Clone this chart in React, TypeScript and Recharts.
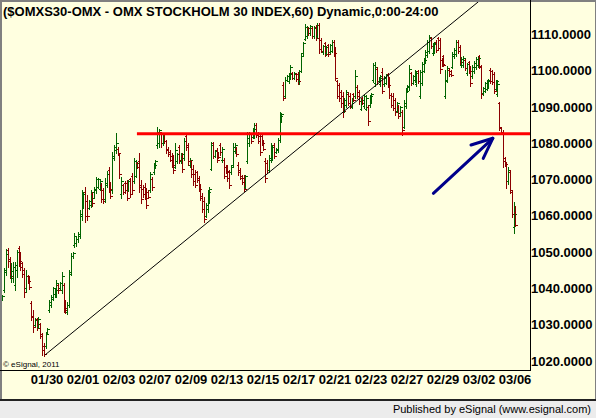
import React from 'react';
import { ComposedChart, Bar, XAxis, YAxis, ReferenceLine } from 'recharts';

// Trading sessions (hourly bars: first session partial)
const sessions = ['01/26','01/27','01/30','01/31','02/01','02/02','02/03','02/06','02/07','02/08','02/09','02/10','02/13','02/14','02/15','02/16','02/17','02/20','02/21','02/22','02/23','02/24','02/27','02/28','02/29','03/01','03/02','03/05','03/06'];
const barsPerSession = [6,10,10,10,10,10,10,10,10,10,10,10,10,10,10,10,10,10,10,10,10,10,10,10,10,10,10,10,10];
const tickDates = ['01/30','02/01','02/03','02/07','02/09','02/13','02/15','02/17','02/21','02/23','02/27','02/29','03/02','03/06'];
const yTicks = [1020,1030,1040,1050,1060,1070,1080,1090,1100,1110];

const opens = [
  1037.0,1039.5,1044.5,1050.5,1048.0,1043.5,
  1043.0,1041.0,1045.0,1051.0,1049.5,1047.0,1045.0,1040.0,1043.5,1042.5,
  1036.0,1032.5,1030.0,1031.5,1029.5,1030.3,1027.5,1024.0,1024.0,1027.8,
  1034.0,1035.5,1037.0,1038.5,1038.5,1041.0,1040.2,1039.5,1041.0,1035.5,
  1033.5,1035.5,1044.5,1048.8,1052.0,1052.5,1053.5,1054.5,1060.0,1063.5,
  1066.5,1064.0,1062.2,1063.0,1066.0,1065.0,1067.0,1068.0,1067.5,1068.5,
  1067.0,1064.5,1068.5,1072.5,1068.5,1067.0,1076.0,1078.0,1078.5,1077.0,
  1066.0,1068.5,1069.0,1069.0,1067.0,1070.0,1071.0,1069.5,1071.0,1074.5,
  1075.0,1068.5,1067.5,1068.0,1067.0,1066.5,1067.0,1070.0,1072.0,1073.5,
  1079.5,1080.0,1083.0,1080.0,1082.5,1080.5,1078.5,1077.5,1076.5,1075.0,
  1073.5,1075.0,1079.0,1075.0,1076.5,1076.0,1082.0,1079.5,1074.0,1075.0,
  1073.0,1071.5,1072.0,1070.5,1068.0,1065.5,1064.0,1060.0,1062.0,1064.0,
  1073.0,1080.0,1076.5,1078.0,1077.3,1079.5,1075.5,1075.5,1073.5,1073.5,
  1072.0,1072.0,1074.0,1077.8,1078.5,1074.0,1072.5,1071.0,1070.5,1068.0,
  1075.0,1080.0,1082.5,1081.8,1082.0,1085.0,1082.5,1082.0,1082.0,1080.5,
  1075.0,1074.5,1072.5,1075.5,1076.0,1079.5,1077.5,1078.0,1081.0,1086.5,
  1096.0,1093.0,1097.4,1097.0,1098.0,1099.3,1098.0,1099.0,1099.0,1097.0,
  1100.0,1104.8,1108.8,1109.5,1111.8,1110.3,1111.8,1109.6,1112.0,1109.5,
  1112.5,1108.5,1105.0,1107.5,1104.8,1107.0,1105.2,1105.5,1108.0,1105.5,
  1097.0,1096.0,1094.0,1093.0,1089.0,1090.5,1093.5,1093.0,1090.0,1093.5,
  1093.0,1095.5,1094.0,1089.5,1092.5,1090.2,1089.5,1090.0,1090.5,1091.5,
  1097.5,1096.5,1100.5,1097.2,1096.3,1099.5,1096.2,1096.7,1099.0,1097.5,
  1093.3,1093.0,1092.0,1089.0,1090.0,1088.2,1088.5,1084.5,1090.2,1094.5,
  1095.5,1099.2,1096.7,1097.3,1096.3,1099.8,1093.0,1096.5,1100.0,1102.5,
  1104.2,1105.5,1109.0,1104.8,1105.2,1108.0,1109.0,1108.5,1103.0,1104.0,
  1093.0,1097.3,1100.3,1100.0,1101.0,1104.0,1104.5,1108.0,1106.5,1101.5,
  1101.5,1103.0,1099.3,1102.3,1101.0,1098.5,1099.8,1101.0,1101.5,1104.0,
  1101.0,1093.7,1094.5,1095.0,1095.5,1100.3,1099.8,1099.0,1095.0,1093.5,
  1091.0,1084.2,1083.2,1075.8,1074.5,1069.5,1072.0,1066.5,1057.0,1061.0,
];

const highs = [
  1038.2,1045.6,1050.9,1051.1,1048.6,1047.0,
  1047.3,1047.3,1050.6,1051.7,1050.0,1047.3,1045.6,1045.1,1043.7,1043.4,
  1036.5,1034.0,1031.8,1031.8,1032.1,1030.5,1027.7,1025.0,1028.0,1029.1,
  1036.8,1038.2,1040.4,1040.1,1042.3,1041.2,1041.8,1044.5,1041.5,1036.8,
  1036.3,1045.1,1049.8,1050.0,1055.3,1054.2,1055.5,1061.6,1067.1,1066.6,
  1067.9,1065.7,1064.4,1067.1,1066.6,1067.9,1070.7,1070.4,1069.9,1069.0,
  1067.7,1070.4,1072.3,1073.4,1069.3,1077.6,1079.5,1082.8,1079.0,1077.3,
  1070.7,1068.8,1069.6,1069.9,1069.9,1070.4,1071.8,1075.9,1075.4,1074.8,
  1077.3,1069.9,1068.5,1069.0,1067.7,1067.1,1072.1,1070.7,1074.5,1075.4,
  1084.5,1084.0,1083.2,1082.8,1082.8,1080.9,1079.0,1078.1,1077.3,1076.7,
  1080.1,1077.3,1079.5,1077.3,1077.3,1081.4,1082.8,1080.1,1075.9,1075.4,
  1074.0,1072.6,1072.3,1071.0,1068.8,1066.3,1065.2,1063.5,1067.1,1067.9,
  1080.3,1080.3,1078.1,1078.7,1077.6,1080.1,1079.0,1075.9,1074.0,1074.0,
  1072.6,1074.0,1080.1,1080.1,1079.0,1074.8,1073.2,1071.2,1071.2,1071.2,
  1083.1,1083.1,1082.8,1084.2,1085.6,1085.6,1083.1,1082.8,1082.8,1080.9,
  1075.9,1075.4,1076.7,1080.1,1079.5,1080.1,1078.7,1081.4,1088.6,1088.3,
  1096.9,1098.2,1098.8,1099.3,1101.5,1099.6,1099.6,1099.3,1099.6,1100.2,
  1104.8,1107.9,1112.8,1112.3,1112.0,1112.6,1112.0,1112.3,1112.6,1113.1,
  1113.1,1109.0,1107.1,1107.9,1106.8,1107.3,1107.3,1108.4,1108.4,1106.5,
  1097.4,1096.6,1094.7,1094.1,1092.5,1094.7,1094.1,1093.8,1092.5,1093.8,
  1100.2,1096.0,1094.7,1092.5,1092.7,1093.3,1093.3,1090.5,1093.3,1093.8,
  1102.1,1102.4,1101.0,1098.2,1098.8,1100.7,1098.5,1099.1,1099.3,1098.2,
  1093.8,1093.8,1092.5,1091.4,1090.5,1090.2,1089.1,1091.9,1095.2,1096.0,
  1101.5,1099.6,1098.8,1100.2,1099.6,1100.2,1100.2,1102.4,1103.5,1105.7,
  1108.4,1109.8,1109.3,1107.6,1107.9,1108.4,1109.3,1109.0,1103.5,1104.3,
  1100.2,1101.3,1100.7,1100.2,1105.1,1106.2,1108.4,1108.4,1107.1,1103.7,
  1104.0,1103.2,1102.1,1102.7,1101.3,1101.5,1102.7,1103.7,1104.0,1104.3,
  1101.5,1095.5,1096.9,1097.4,1097.7,1100.7,1100.2,1099.6,1097.4,1097.4,
  1091.4,1084.5,1083.6,1076.2,1074.8,1073.4,1072.6,1067.1,1063.8,1062.7,
];

const lows = [
  1036.8,1039.0,1043.7,1045.9,1042.9,1041.8,
  1041.8,1039.6,1043.1,1046.2,1045.1,1043.1,1037.6,1039.0,1041.5,1039.9,
  1031.3,1028.0,1029.6,1028.5,1029.1,1026.3,1021.7,1021.4,1023.6,1027.4,
  1033.5,1034.9,1036.8,1037.6,1037.6,1038.7,1039.8,1038.7,1033.5,1033.2,
  1032.9,1034.9,1043.7,1048.4,1051.4,1051.7,1052.8,1053.9,1058.8,1062.1,
  1058.3,1058.8,1061.9,1062.4,1062.7,1064.9,1066.3,1067.7,1067.1,1063.8,
  1063.5,1063.8,1067.9,1066.6,1064.9,1066.3,1075.4,1077.3,1076.7,1070.4,
  1064.9,1066.0,1066.3,1064.4,1066.8,1065.2,1066.3,1069.0,1070.7,1073.2,
  1066.6,1063.5,1065.2,1064.6,1062.1,1064.9,1066.6,1067.1,1071.5,1073.2,
  1078.7,1079.0,1079.0,1079.5,1080.1,1077.3,1076.5,1075.1,1073.4,1071.8,
  1073.2,1074.5,1074.5,1074.5,1072.1,1075.4,1078.1,1074.0,1073.4,1070.7,
  1068.5,1067.9,1069.3,1066.8,1064.4,1061.0,1058.3,1059.7,1061.0,1063.5,
  1072.6,1075.9,1076.2,1074.8,1075.9,1076.7,1074.8,1070.4,1071.8,1069.6,
  1067.7,1071.5,1073.7,1077.3,1076.5,1071.2,1070.1,1068.8,1066.8,1067.7,
  1074.5,1079.2,1080.1,1081.4,1081.4,1081.7,1080.1,1076.7,1079.5,1078.1,
  1069.3,1071.8,1072.1,1074.8,1075.4,1075.9,1077.3,1077.6,1080.3,1085.8,
  1091.9,1092.7,1097.1,1096.6,1097.7,1097.7,1097.7,1097.1,1096.3,1096.3,
  1099.6,1104.3,1108.4,1109.0,1109.8,1109.8,1109.0,1109.0,1108.4,1109.0,
  1104.8,1105.1,1104.6,1104.0,1104.3,1104.0,1104.8,1105.1,1104.0,1097.4,
  1092.4,1091.6,1090.0,1087.2,1088.6,1090.0,1090.5,1089.7,1089.7,1091.6,
  1092.5,1092.5,1090.8,1089.1,1090.8,1089.7,1089.1,1085.0,1090.0,1091.1,
  1096.9,1095.8,1096.3,1096.9,1095.8,1093.8,1095.8,1096.3,1095.5,1092.5,
  1090.0,1089.1,1087.8,1088.6,1086.9,1087.8,1082.3,1084.2,1089.7,1094.1,
  1094.7,1096.0,1096.3,1096.9,1095.8,1096.6,1092.5,1096.0,1099.6,1102.1,
  1103.7,1104.8,1106.2,1104.3,1104.8,1105.1,1105.7,1099.3,1101.3,1101.3,
  1092.5,1096.9,1098.5,1098.5,1100.7,1103.5,1104.0,1104.8,1101.8,1101.0,
  1101.0,1100.2,1098.8,1099.3,1095.8,1098.0,1099.3,1100.4,1101.0,1100.7,
  1092.5,1093.3,1094.1,1094.7,1095.2,1096.6,1096.3,1093.8,1094.7,1093.0,
  1083.6,1082.8,1073.4,1073.7,1067.7,1068.8,1066.3,1059.7,1055.3,1057.2,
];

const closes = [
  1038.0,1045.0,1049.5,1047.5,1043.5,1044.8,
  1046.0,1046.5,1050.0,1047.5,1046.0,1044.0,1039.0,1043.5,1042.0,1040.5,
  1032.0,1029.5,1031.3,1029.0,1031.5,1027.0,1023.0,1022.0,1027.5,1028.8,
  1036.3,1037.5,1040.0,1039.5,1041.5,1039.5,1041.4,1043.5,1034.5,1034.0,
  1035.5,1044.0,1049.0,1049.8,1054.5,1053.5,1055.0,1060.5,1066.0,1066.0,
  1060.0,1060.0,1064.0,1066.5,1063.5,1067.5,1070.0,1070.0,1069.5,1064.5,
  1064.0,1069.0,1071.5,1067.5,1065.5,1076.5,1079.0,1080.0,1077.2,1071.5,
  1069.5,1066.5,1067.0,1065.0,1069.5,1066.0,1067.0,1075.0,1074.5,1073.5,
  1068.0,1064.5,1066.0,1065.0,1063.0,1065.3,1071.5,1068.0,1074.0,1075.0,
  1083.0,1083.5,1080.0,1082.5,1080.5,1078.0,1077.0,1075.5,1074.0,1072.5,
  1078.0,1077.0,1075.5,1077.0,1073.0,1080.5,1079.0,1075.0,1075.5,1071.5,
  1069.5,1068.5,1069.8,1067.5,1065.0,1062.0,1059.0,1063.0,1066.5,1067.5,
  1079.5,1076.5,1077.8,1075.5,1076.3,1077.5,1078.5,1071.0,1072.3,1070.5,
  1068.5,1073.5,1079.0,1079.5,1077.0,1072.0,1070.5,1069.2,1067.5,1071.0,
  1081.5,1082.5,1080.5,1083.8,1085.0,1082.2,1080.5,1077.5,1080.0,1078.5,
  1070.5,1072.5,1076.0,1079.0,1079.0,1076.5,1078.5,1081.0,1087.5,1088.0,
  1092.5,1097.5,1098.5,1099.0,1101.0,1098.0,1099.3,1097.6,1097.0,1099.8,
  1104.0,1107.5,1112.0,1111.8,1110.3,1112.2,1109.6,1111.8,1109.0,1112.5,
  1106.0,1105.5,1106.8,1104.6,1106.5,1104.6,1107.0,1108.0,1104.8,1098.0,
  1093.0,1092.5,1091.0,1089.0,1092.0,1094.0,1091.0,1090.3,1092.0,1092.0,
  1098.5,1093.0,1091.5,1092.0,1091.2,1093.0,1092.5,1086.0,1093.0,1093.5,
  1101.5,1101.0,1097.0,1098.0,1098.5,1094.5,1098.0,1098.8,1096.0,1093.2,
  1090.5,1089.8,1088.5,1091.0,1087.5,1090.0,1083.5,1091.0,1094.5,1095.8,
  1100.5,1096.5,1098.5,1099.8,1099.2,1097.0,1099.5,1101.8,1103.0,1105.2,
  1108.0,1109.2,1106.8,1107.2,1107.5,1105.6,1106.2,1100.5,1101.8,1101.6,
  1097.0,1100.8,1099.0,1098.8,1104.5,1105.8,1107.8,1105.3,1102.5,1103.3,
  1103.5,1100.7,1101.7,1099.8,1096.5,1101.0,1102.2,1103.3,1103.6,1101.3,
  1093.5,1095.2,1096.5,1097.0,1097.3,1097.0,1096.8,1094.5,1097.0,1096.3,
  1084.5,1083.2,1075.0,1074.2,1069.5,1072.5,1067.0,1060.5,1060.5,1057.5,
];

// Annotations (drawn in data coordinates: bar index, index value)
const supportLevel = 1082.6;
const supportStartBar = 74.4;
const trendStart = { x: 23.3, y: 1021.65 };
const trendEnd = { x: 264.2, y: 1119.0 };
const arrowTail = { x: 239.1, y: 1066.2 };
const arrowHead = { x: 272.1, y: 1081.35 };
const arrowBarbA = { x: 260.0, y: 1079.5 };
const arrowBarbB = { x: 266.8, y: 1075.8 };

// Build rows
const sessionOfBar: string[] = [];
sessions.forEach((d, k) => {
  for (let j = 0; j < barsPerSession[k]; j++) sessionOfBar.push(d);
});
const rows = opens.map((o, i) => ({
  i,
  date: sessionOfBar[i],
  open: o,
  high: highs[i],
  low: lows[i],
  close: closes[i],
  range: [lows[i], highs[i]],
}));
const LABEL_OFFSET = 8.5;
const tickIdx = tickDates.map((d) => sessionOfBar.indexOf(d) + LABEL_OFFSET);

const FONT = '"Liberation Sans", Arial, Helvetica, sans-serif';
const GREEN = '#006400';
const RED = '#8B0000';

const OHLC = (props: any) => {
  const { x, y, width, height, payload } = props;
  if (x == null || y == null || !payload) return null;
  const top = Math.min(y, y + height);
  const bottom = Math.max(y, y + height);
  const { open, high, low, close } = payload;
  const span = high - low;
  const toY = (v: number) => (span === 0 ? top : top + ((high - v) / span) * (bottom - top));
  const cx = Math.floor(x + width / 2) + 0.5;
  const color = close >= open ? GREEN : RED;
  const oy = Math.round(toY(open)) + 0.5;
  const cy = Math.round(toY(close)) + 0.5;
  return (
    <g stroke={color} strokeWidth={1} shapeRendering="crispEdges">
      <line x1={cx} x2={cx} y1={Math.round(top)} y2={Math.round(bottom) + 1} />
      <line x1={cx - 2} x2={cx} y1={oy} y2={oy} />
      <line x1={cx} x2={cx + 2} y1={cy} y2={cy} />
    </g>
  );
};

export default function App() {
  return (
    <div style={{ position: 'absolute', left: 0, top: 0, width: 596, height: 418, background: '#FFFFE0', overflow: 'hidden', fontFamily: FONT }}>
      <div style={{ position: 'absolute', left: 0, top: 0 }}>
        <ComposedChart width={596} height={400} data={rows} margin={{ top: 1, right: 0, bottom: 0, left: 2 }}>
          <XAxis
            dataKey="i"
            type="number"
            domain={[-0.556, 292.78]}
            allowDataOverflow
            ticks={tickIdx}
            interval={0}
            tickFormatter={(v: number) => {
              const k = tickIdx.indexOf(v);
              return k >= 0 ? tickDates[k] : '';
            }}
            tickLine={false}
            axisLine={false}
            tickSize={0}
            tickMargin={4.5}
            height={30}
            tick={{ fontSize: 13, fontWeight: 'bold', fill: '#000', fontFamily: FONT }}
          />
          <YAxis
            orientation="right"
            type="number"
            domain={[1017.52, 1119.17]}
            allowDataOverflow
            ticks={yTicks}
            interval={0}
            tickFormatter={(v: number) => v.toFixed(4)}
            width={66}
            tickLine={false}
            axisLine={false}
            tickSize={0}
            tickMargin={1}
            tick={{ fontSize: 13, fontWeight: 'bold', fill: '#000', fontFamily: FONT }}
          />
          <Bar dataKey="range" barSize={2} isAnimationActive={false} shape={(p: any) => <OHLC {...p} />} />
          <ReferenceLine
            segment={[{ x: supportStartBar, y: supportLevel }, { x: 292.78, y: supportLevel }]}
            stroke="#FF0000"
            strokeWidth={3}
            ifOverflow="visible"
          />
          <ReferenceLine segment={[trendStart, trendEnd]} stroke="#000" strokeWidth={1} ifOverflow="visible" />
          <ReferenceLine segment={[arrowTail, arrowHead]} stroke="#00008B" strokeWidth={3} strokeLinecap="round" ifOverflow="visible" />
          <ReferenceLine segment={[arrowBarbA, arrowHead]} stroke="#00008B" strokeWidth={3} strokeLinecap="round" ifOverflow="visible" />
          <ReferenceLine segment={[arrowBarbB, arrowHead]} stroke="#00008B" strokeWidth={3} strokeLinecap="round" ifOverflow="visible" />
        </ComposedChart>
      </div>
      <svg width={596} height={418} style={{ position: 'absolute', left: 0, top: 0, pointerEvents: 'none' }}>
        {/* window borders */}
        <rect x={0} y={0} width={596} height={2} fill="#808080" />
        <rect x={0} y={0} width={2} height={400} fill="#808080" />
        <rect x={595} y={0} width={1} height={400} fill="#808080" />
        {/* plot frame */}
        <rect x={530} y={0} width={1} height={371} fill="#000" />
        <rect x={0} y={370} width={531} height={1} fill="#000" />
        {/* status bar */}
        <rect x={0} y={399} width={596} height={2} fill="#222" />
        <rect x={0} y={401} width={596} height={17} fill="#ECECEC" />
        <text x={591} y={413} textAnchor="end" fontSize={11} fontFamily={FONT} fill="#000">
          Published by eSignal (www.esignal.com)
        </text>
        <text x={3} y={16} fontSize={13} fontWeight="bold" fontFamily={FONT} fill="#000">
          ($OMXS30-OMX - OMX STOCKHOLM 30 INDEX,60) Dynamic,0:00-24:00
        </text>
        <text x={3} y={366.5} fontSize={8} fontFamily={FONT} fill="#000">
          © eSignal, 2011
        </text>
      </svg>
    </div>
  );
}
